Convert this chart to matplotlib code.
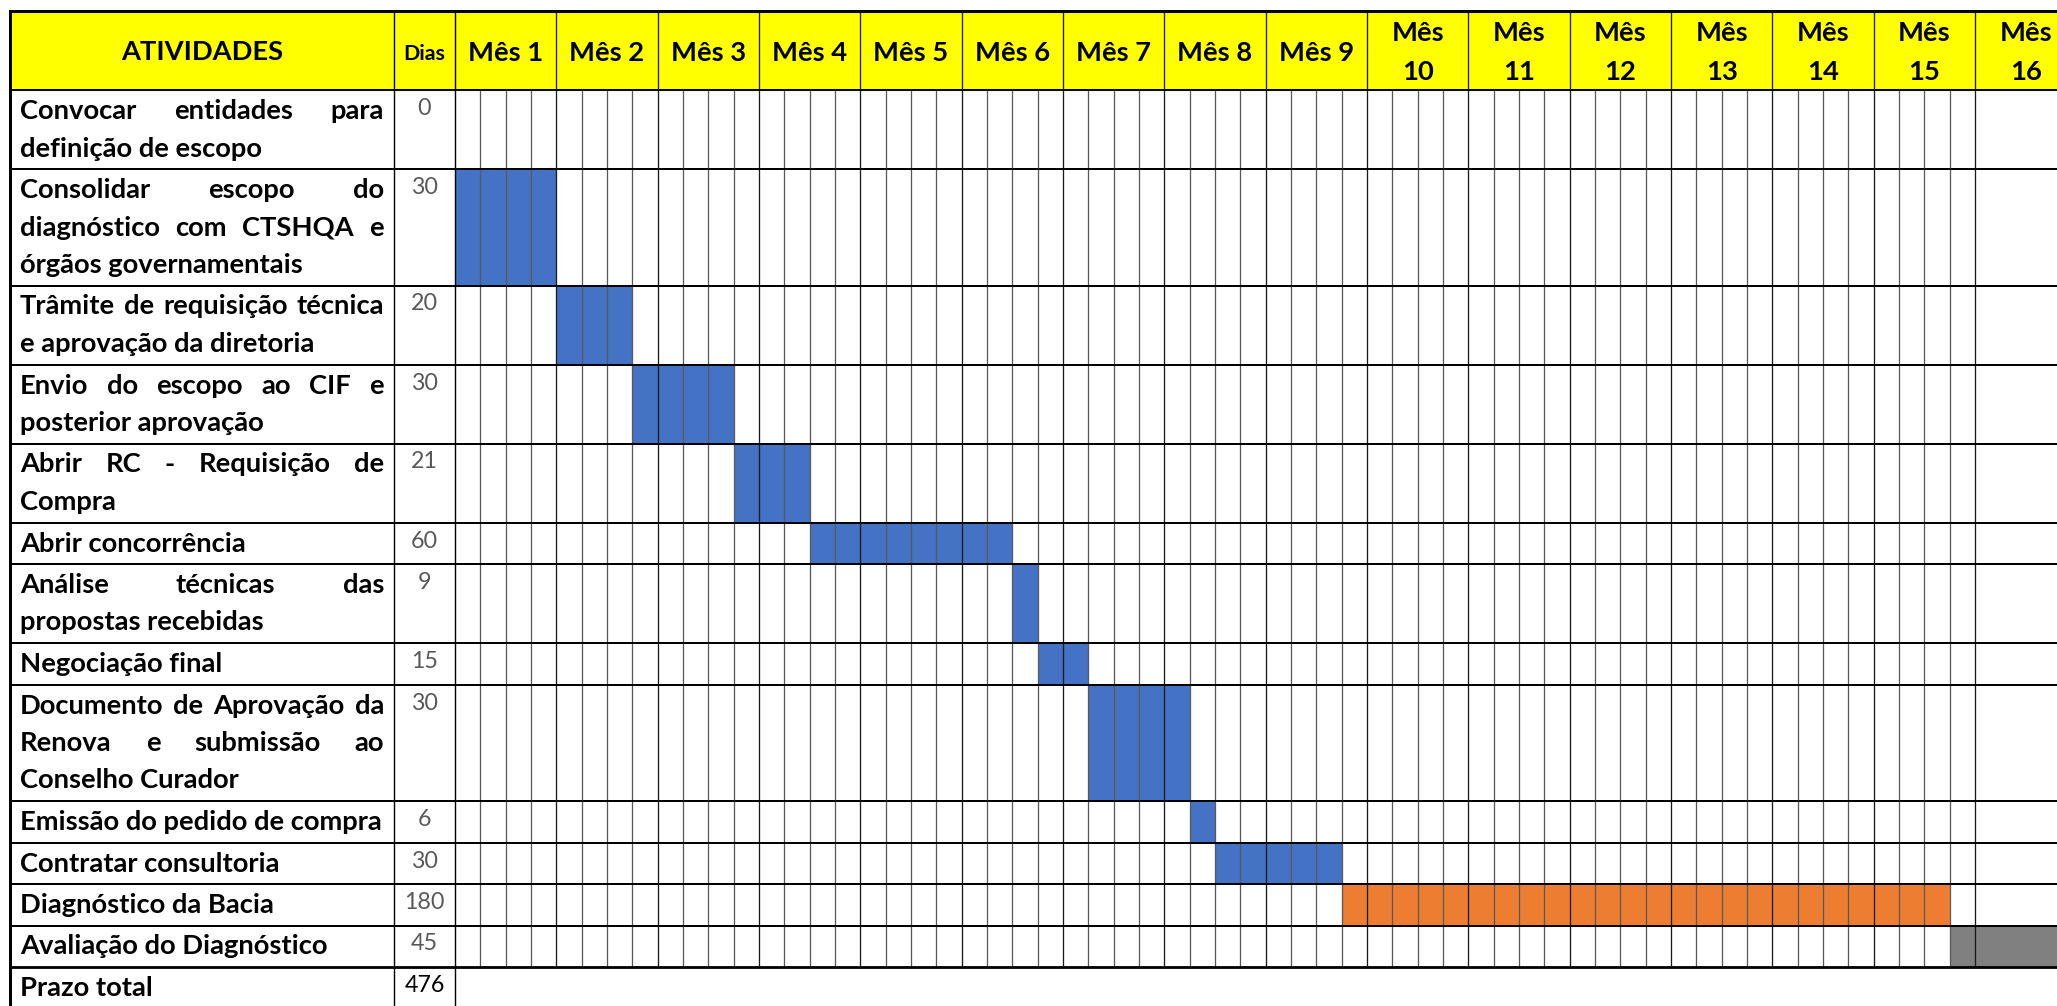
import numpy as np
import matplotlib
matplotlib.use("Agg")
import matplotlib.pyplot as plt
from matplotlib.patches import Rectangle

plt.rcParams['font.family'] = ['Lato', 'DejaVu Sans']

# ---- data -------------------------------------------------------------
activities = [
    "Convocar entidades para\ndefinição de escopo",
    "Consolidar escopo do\ndiagnóstico com CTSHQA e\nórgãos governamentais",
    "Trâmite de requisição técnica\ne aprovação da diretoria",
    "Envio do escopo ao CIF e\nposterior aprovação",
    "Abrir RC - Requisição de\nCompra",
    "Abrir concorrência",
    "Análise técnicas das\npropostas recebidas",
    "Negociação final",
    "Documento de Aprovação da\nRenova e submissão ao\nConselho Curador",
    "Emissão do pedido de compra",
    "Contratar consultoria",
    "Diagnóstico da Bacia",
    "Avaliação do Diagnóstico",
]
dias = [0, 30, 20, 30, 21, 60, 9, 15, 30, 6, 30, 180, 45]
# gantt: first cell (week) and number of cells filled
start_cell = [0, 0, 4, 7, 11, 14, 22, 23, 25, 29, 30, 35, 59]
n_cells = [0, 4, 3, 4, 3, 8, 1, 2, 4, 1, 5, 24, 2]
bar_colors = ['#4472C4'] * 11 + ['#ED7D31', '#808080']

total_label = "Prazo total"
total_dias = 476

month_labels = ["Mês 1", "Mês 2", "Mês 3", "Mês 4", "Mês 5", "Mês 6", "Mês 7",
                "Mês 8", "Mês 9", "Mês\n10", "Mês\n11", "Mês\n12", "Mês\n13",
                "Mês\n14", "Mês\n15", "Mês\n16"]
weeks_per_month = 4
split_months = 15   # months drawn with week subdivisions

# ---- layout (pixels) --------------------------------------------------
W, H = 2057, 1006
left, act_right, dias_right = 10, 394, 455
top, head_bottom = 11, 90
month_w = 101.33
week_w = month_w / weeks_per_month
row_base, line_step = 41.5, 37.5
text_x0, text_x1 = 20, 384

px = 0.72  # points per pixel at dpi=100

fig = plt.figure(figsize=(W / 100, H / 100), dpi=100)
ax = fig.add_axes([0, 0, 1, 1])
ax.set_xlim(0, W)
ax.set_ylim(H, 0)
ax.axis('off')
renderer = fig.canvas.get_renderer()


def text_width(s, **kw):
    t = ax.text(0, 0, s, **kw)
    w = t.get_window_extent(renderer).width
    t.remove()
    return w


# body font size fitted to the widest unjustified line
fs = 10 * (text_x1 - text_x0) / text_width("Emissão do pedido de compra", fontsize=10, fontweight='bold')
num_fs = fs * 0.85

# cell edges: weeks for first 15 months, then one whole-month cell
n_weeks = split_months * weeks_per_month
x_edges = dias_right + np.concatenate([np.arange(n_weeks + 1) * week_w,
                                       [n_weeks * week_w + month_w]])

# row geometry
row_h = [row_base + line_step * (a.count('\n')) for a in activities]
row_top = head_bottom + np.concatenate([[0], np.cumsum(row_h)])
last_bottom = row_top[-1]

# ---- header -----------------------------------------------------------
ax.add_patch(Rectangle((left, top), W - left, head_bottom - top, color='#FFFF00', zorder=0))
ax.text((left + act_right) / 2, 60, "ATIVIDADES", fontsize=fs, fontweight='bold',
        ha='center', va='baseline', zorder=3)
ax.text((act_right + dias_right) / 2, 60, "Dias", fontsize=fs * 0.78, fontweight='bold',
        ha='center', va='baseline', zorder=3)
for m, lab in enumerate(month_labels):
    cx = dias_right + (m + 0.5) * month_w
    parts = lab.split('\n')
    if len(parts) == 1:
        ax.text(cx, 61, lab, fontsize=fs, fontweight='bold', ha='center', va='baseline', zorder=3)
    else:
        ax.text(cx, 41, parts[0], fontsize=fs, fontweight='bold', ha='center', va='baseline', zorder=3)
        ax.text(cx, 80, parts[1], fontsize=fs, fontweight='bold', ha='center', va='baseline', zorder=3)

# ---- bars -------------------------------------------------------------
for i in range(len(activities)):
    if n_cells[i] == 0:
        continue
    x0 = x_edges[start_cell[i]]
    x1 = x_edges[start_cell[i] + n_cells[i]]
    ax.add_patch(Rectangle((x0, row_top[i]), x1 - x0, row_h[i],
                           color=bar_colors[i], lw=0, zorder=1))


# ---- activity text (justified like the source table) ------------------
def draw_line(s, y, justify):
    words = s.split(' ')
    if not justify or len(words) == 1:
        ax.text(text_x0, y, s, fontsize=fs, fontweight='bold', va='baseline', zorder=3)
        return
    widths = [text_width(w, fontsize=fs, fontweight='bold') for w in words]
    gap = (text_x1 - text_x0 - sum(widths)) / (len(words) - 1)
    x = text_x0
    for w, wd in zip(words, widths):
        ax.text(x, y, w, fontsize=fs, fontweight='bold', va='baseline', zorder=3)
        x += wd + gap


for i, act in enumerate(activities):
    lines = act.split('\n')
    for j, ln in enumerate(lines):
        draw_line(ln, row_top[i] + 29 + line_step * j, j < len(lines) - 1)
    ax.text((act_right + dias_right) / 2, row_top[i] + 25, str(dias[i]), fontsize=num_fs,
            color='#595959', ha='center', va='baseline', zorder=3)

draw_line(total_label, last_bottom + 29, False)
ax.text((act_right + dias_right) / 2, last_bottom + 25, str(total_dias), fontsize=num_fs,
        color='black', ha='center', va='baseline', zorder=3)

# ---- grid lines -------------------------------------------------------
for j in range(1, n_weeks + 1):
    x = x_edges[j]
    if j % weeks_per_month == 0:
        ax.plot([x, x], [top, last_bottom], color='#1a1a1a', lw=1.3 * px, zorder=2)
    else:
        ax.plot([x, x], [head_bottom, last_bottom], color='#5a5a5a', lw=1.3 * px, zorder=2)

for x in [act_right, dias_right]:
    ax.plot([x, x], [top, H], color='black', lw=1.4 * px, zorder=2)

for y in row_top[:-1]:
    ax.plot([left, W], [y, y], color='black', lw=2.0 * px, zorder=2)
ax.plot([left, W], [last_bottom, last_bottom], color='black', lw=2.8 * px, zorder=2)

ax.plot([left, W], [top, top], color='black', lw=3 * px, zorder=2, solid_capstyle='projecting')
ax.plot([left, left], [top, H], color='black', lw=3 * px, zorder=2, solid_capstyle='projecting')

fig.savefig("out.png", dpi=100)
